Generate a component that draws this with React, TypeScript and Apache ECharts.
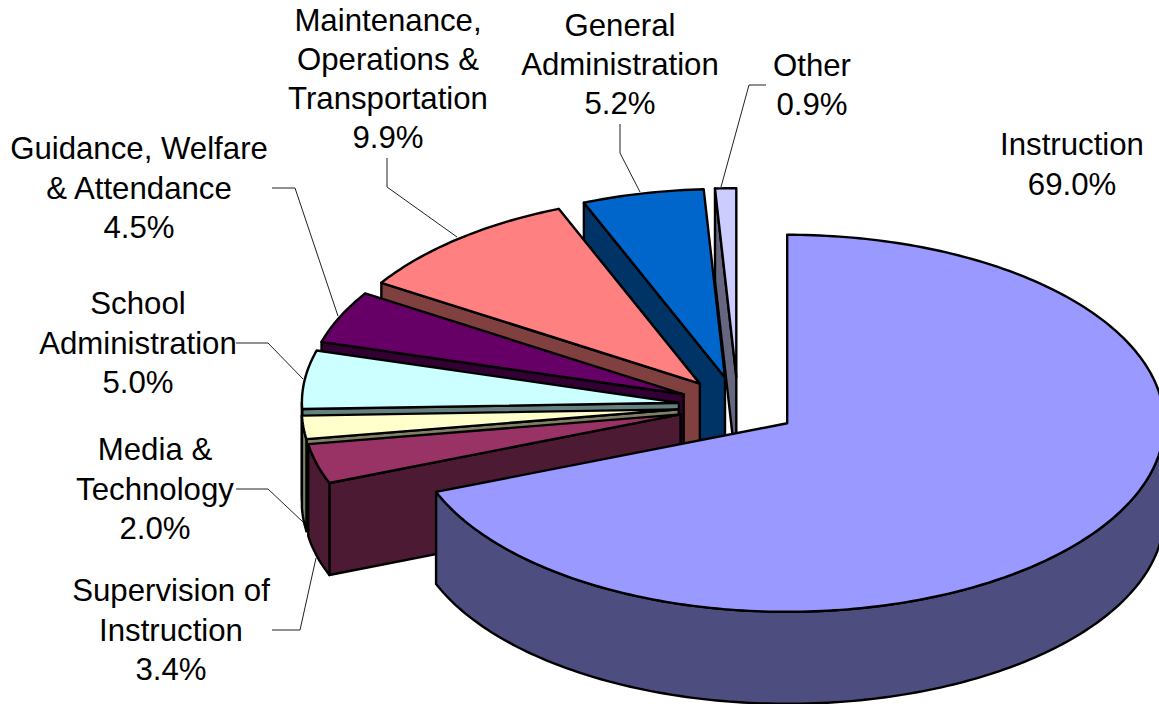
import React, { useEffect, useRef } from "react";
import * as echarts from "echarts";

const categories = [
  "Instruction",
  "Supervision of Instruction",
  "Media & Technology",
  "School Administration",
  "Guidance, Welfare & Attendance",
  "Maintenance, Operations & Transportation",
  "General Administration",
  "Other",
];
const shares = [69.0, 3.4, 2.0, 5.0, 4.5, 9.9, 5.2, 0.9];
const topColors = ["#9999FF", "#993366", "#FFFFCC", "#CCFFFF", "#660066", "#FF8080", "#0066CC", "#CCCCFF"];
const sideColors = ["#4D4D80", "#4D1A33", "#808066", "#668080", "#330033", "#804040", "#003366", "#666680"];
const labelNames = [
  "Instruction",
  "Supervision of\nInstruction",
  "Media &\nTechnology",
  "School\nAdministration",
  "Guidance, Welfare\n& Attendance",
  "Maintenance,\nOperations &\nTransportation",
  "General\nAdministration",
  "Other",
];
// label centre [x, y] and leader line, per category
const labelCentres = [
  [1072, 164.5], [171, 630], [155, 489], [138, 343], [139, 188], [388, 79], [620, 64.5], [812, 85],
];
const leaderLines: number[][][] = [
  [],
  [[316, 558], [300, 630], [272, 630]],
  [[303, 522], [268, 489], [236, 489]],
  [[303, 379], [268, 343], [236, 343]],
  [[338, 316], [295, 188], [272, 188]],
  [[457, 237], [387, 187], [387, 158]],
  [[640, 192], [620, 153], [620, 124]],
  [[721, 187], [749, 85], [766, 85]],
];

const CX = 738, CY = 406.5, RX = 377, RY = 188.5, EXPLODE = 0.158, DEPTH = 92;
const total = shares.reduce((a, b) => a + b, 0);
const toRad = (d: number) => (d * Math.PI) / 180;
const spans = (() => {
  let acc = 0;
  return shares.map((v) => {
    const start = (acc / total) * 360;
    acc += v;
    return { start, end: (acc / total) * 360 };
  });
})();

function renderSlice(params: any, api: any) {
  const idx = shares.length - 1 - params.dataIndex;
  const { start, end } = spans[idx];
  const mid = toRad((start + end) / 2);
  const ax = CX + EXPLODE * RX * Math.sin(mid);
  const ay = CY - EXPLODE * RY * Math.cos(mid);
  const pt = (deg: number, drop = 0) => [
    ax + RX * Math.sin(toRad(deg)),
    ay - RY * Math.cos(toRad(deg)) + drop,
  ];
  const arc = (from: number, to: number, drop = 0) => {
    const out: number[][] = [];
    const n = Math.max(2, Math.ceil(Math.abs(to - from)));
    for (let i = 0; i <= n; i++) out.push(pt(from + ((to - from) * i) / n, drop));
    return out;
  };
  const poly = (points: number[][], fill: string) => ({
    type: "polygon",
    shape: { points },
    style: { fill, stroke: "#000", lineWidth: 2.4, lineJoin: "round" },
  });
  const children: any[] = [];
  const side = sideColors[idx];
  if (Math.sin(toRad(start)) < -1e-6) {
    children.push(poly([[ax, ay], pt(start), pt(start, DEPTH), [ax, ay + DEPTH]], side));
  }
  if (Math.sin(toRad(end)) > 1e-6) {
    children.push(poly([[ax, ay], pt(end), pt(end, DEPTH), [ax, ay + DEPTH]], side));
  }
  const rimFrom = Math.max(start, 90);
  const rimTo = Math.min(end, 270);
  if (rimTo > rimFrom) {
    children.push(poly([...arc(rimFrom, rimTo), ...arc(rimTo, rimFrom, DEPTH)], side));
  }
  children.push(poly([[ax, ay], ...arc(start, end)], topColors[idx]));
  return { type: "group", children };
}

export default function App() {
  const ref = useRef<HTMLDivElement>(null);
  useEffect(() => {
    document.body.style.margin = "0";
    document.body.style.overflow = "hidden";
    const chart = echarts.init(ref.current!, null, { renderer: "svg" });
    const order = shares.map((_, i) => shares.length - 1 - i);
    chart.setOption({
      animation: false,
      backgroundColor: "#fff",
      series: [
        {
          type: "custom",
          coordinateSystem: "none",
          renderItem: renderSlice,
          data: order.map((i) => ({ name: categories[i], value: [shares[i]] })),
          clip: false,
          silent: true,
        },
      ],
      graphic: [
        ...leaderLines
          .filter((l) => l.length > 0)
          .map((points) => ({
            type: "polyline",
            z: 5,
            shape: { points },
            style: { stroke: "#222", lineWidth: 1, fill: "none" },
          })),
        ...labelNames.map((name, i) => ({
          type: "text",
          z: 10,
          x: labelCentres[i][0],
          y: labelCentres[i][1],
          style: {
            text: `${name}\n${shares[i].toFixed(1)}%`,
            fontFamily: "Liberation Sans, Arial, sans-serif",
            fontSize: 31.2,
            lineHeight: 39.3,
            fill: "#000",
            align: "center",
            verticalAlign: "middle",
          },
        })),
      ],
    });
    return () => chart.dispose();
  }, []);
  return <div ref={ref} style={{ width: 1159, height: 704 }} />;
}
